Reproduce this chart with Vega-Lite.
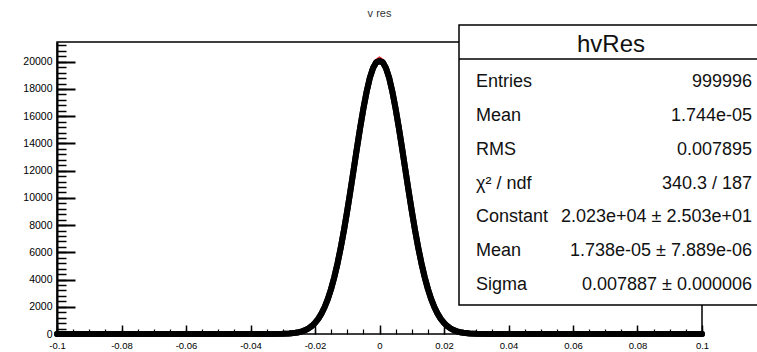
{
  "$schema": "https://vega.github.io/schema/vega-lite/v6.json",
  "width": 645,
  "height": 292,
  "autosize": {"type": "none"},
  "padding": {"left": 57, "top": 42, "right": 55, "bottom": 18},
  "background": "white",
  "config": {
    "view": {"stroke": "black", "strokeWidth": 1.5},
    "font": "Liberation Sans",
    "axis": {"grid": false, "labelFont": "Liberation Sans", "labelColor": "black", "title": null, "labelFlush": false, "labelOverlap": false}
  },
  "title": {"text": "v res", "fontSize": 11, "fontWeight": "normal", "color": "#333", "font": "Liberation Sans", "offset": 5, "anchor": "middle", "frame": "group"},
  "datasets": {
    "hist": [
      {"x": -0.1, "fit": 0, "counts": 0},
      {"x": -0.09, "fit": 0, "counts": 0},
      {"x": -0.08, "fit": 0, "counts": 0},
      {"x": -0.07, "fit": 0, "counts": 0},
      {"x": -0.06, "fit": 0, "counts": 0},
      {"x": -0.05, "fit": 0, "counts": 0},
      {"x": -0.04, "fit": 0, "counts": 0},
      {"x": -0.035, "fit": 1, "counts": 1},
      {"x": -0.03, "fit": 15, "counts": 15},
      {"x": -0.028, "fit": 37, "counts": 37},
      {"x": -0.026, "fit": 88, "counts": 88},
      {"x": -0.025, "fit": 133, "counts": 133},
      {"x": -0.024, "fit": 197, "counts": 197},
      {"x": -0.023, "fit": 288, "counts": 288},
      {"x": -0.022, "fit": 413, "counts": 413},
      {"x": -0.021, "fit": 584, "counts": 584},
      {"x": -0.02, "fit": 812, "counts": 812},
      {"x": -0.019, "fit": 1111, "counts": 1111},
      {"x": -0.018, "fit": 1496, "counts": 1496},
      {"x": -0.017, "fit": 1982, "counts": 1982},
      {"x": -0.016, "fit": 2585, "counts": 2585},
      {"x": -0.015, "fit": 3316, "counts": 3316},
      {"x": -0.014, "fit": 4186, "counts": 4186},
      {"x": -0.013, "fit": 5201, "counts": 5201},
      {"x": -0.012, "fit": 6358, "counts": 6358},
      {"x": -0.011, "fit": 7649, "counts": 7649},
      {"x": -0.01, "fit": 9056, "counts": 9056},
      {"x": -0.009, "fit": 10550, "counts": 10550},
      {"x": -0.008, "fit": 12095, "counts": 12095},
      {"x": -0.007, "fit": 13644, "counts": 13644},
      {"x": -0.006, "fit": 15147, "counts": 15147},
      {"x": -0.005, "fit": 16547, "counts": 16547},
      {"x": -0.004, "fit": 17789, "counts": 17789},
      {"x": -0.003, "fit": 18818, "counts": 18818},
      {"x": -0.002, "fit": 19590, "counts": 19540},
      {"x": -0.001, "fit": 20068, "counts": 19960},
      {"x": 0, "fit": 20230, "counts": 20040},
      {"x": 0.001, "fit": 20068, "counts": 19960},
      {"x": 0.002, "fit": 19590, "counts": 19540},
      {"x": 0.003, "fit": 18818, "counts": 18818},
      {"x": 0.004, "fit": 17789, "counts": 17789},
      {"x": 0.005, "fit": 16547, "counts": 16547},
      {"x": 0.006, "fit": 15147, "counts": 15147},
      {"x": 0.007, "fit": 13644, "counts": 13644},
      {"x": 0.008, "fit": 12095, "counts": 12095},
      {"x": 0.009, "fit": 10550, "counts": 10550},
      {"x": 0.01, "fit": 9056, "counts": 9056},
      {"x": 0.011, "fit": 7649, "counts": 7649},
      {"x": 0.012, "fit": 6358, "counts": 6358},
      {"x": 0.013, "fit": 5201, "counts": 5201},
      {"x": 0.014, "fit": 4186, "counts": 4186},
      {"x": 0.015, "fit": 3316, "counts": 3316},
      {"x": 0.016, "fit": 2585, "counts": 2585},
      {"x": 0.017, "fit": 1982, "counts": 1982},
      {"x": 0.018, "fit": 1496, "counts": 1496},
      {"x": 0.019, "fit": 1111, "counts": 1111},
      {"x": 0.02, "fit": 812, "counts": 812},
      {"x": 0.021, "fit": 584, "counts": 584},
      {"x": 0.022, "fit": 413, "counts": 413},
      {"x": 0.023, "fit": 288, "counts": 288},
      {"x": 0.024, "fit": 197, "counts": 197},
      {"x": 0.025, "fit": 133, "counts": 133},
      {"x": 0.026, "fit": 88, "counts": 88},
      {"x": 0.028, "fit": 37, "counts": 37},
      {"x": 0.03, "fit": 15, "counts": 15},
      {"x": 0.035, "fit": 1, "counts": 1},
      {"x": 0.04, "fit": 0, "counts": 0},
      {"x": 0.05, "fit": 0, "counts": 0},
      {"x": 0.06, "fit": 0, "counts": 0},
      {"x": 0.07, "fit": 0, "counts": 0},
      {"x": 0.08, "fit": 0, "counts": 0},
      {"x": 0.09, "fit": 0, "counts": 0},
      {"x": 0.1, "fit": 0, "counts": 0}
    ],
    "stats": [
      {"row": 1, "label": "Entries", "value": "999996"},
      {"row": 2, "label": "Mean", "value": "1.744e-05"},
      {"row": 3, "label": "RMS", "value": "0.007895"},
      {"row": 4, "label": "χ² / ndf", "value": "340.3 / 187"},
      {"row": 5, "label": "Constant", "value": "2.023e+04 ± 2.503e+01"},
      {"row": 6, "label": "Mean", "value": "1.738e-05 ± 7.889e-06"},
      {"row": 7, "label": "Sigma", "value": "0.007887 ± 0.000006"}
    ],
    "box": [{"name": "hvRes"}]
  },
  "layer": [
    {
      "data": {"name": "hist"},
      "layer": [
        {
          "mark": {"type": "line", "color": "#e8202a", "strokeWidth": 4},
          "encoding": {
            "x": {"field": "x", "type": "quantitative", "scale": {"domain": [-0.1, 0.1], "nice": false, "zero": false},
              "axis": {"orient": "bottom", "ticks": false, "domain": false, "labelPadding": 6, "labelFontSize": 9.5,
                "values": [-0.1, -0.08, -0.06, -0.04, -0.02, 0, 0.02, 0.04, 0.06, 0.08, 0.1],
                "labelExpr": "'' + datum.value"}},
            "y": {"field": "fit", "type": "quantitative", "scale": {"domain": [0, 21450], "nice": false},
              "axis": {"orient": "left", "ticks": false, "domain": true, "domainColor": "black", "domainWidth": 2, "labelPadding": 5, "labelFontSize": 10.5,
                "values": [0, 2000, 4000, 6000, 8000, 10000, 12000, 14000, 16000, 18000, 20000], "format": "d"}}
          }
        },
        {
          "mark": {"type": "line", "color": "black", "strokeWidth": 6, "strokeCap": "round", "strokeJoin": "round"},
          "encoding": {
            "x": {"field": "x", "type": "quantitative",
              "axis": {"orient": "bottom", "labels": false, "domain": false, "tickSize": -9, "tickWidth": 1.5, "tickColor": "black",
                "values": [-0.1, -0.08, -0.06, -0.04, -0.02, 0, 0.02, 0.04, 0.06, 0.08, 0.1]}},
            "y": {"field": "counts", "type": "quantitative",
              "axis": {"orient": "left", "labels": false, "domain": false, "tickSize": -18, "tickWidth": 2, "tickColor": "black",
                "values": [0, 2000, 4000, 6000, 8000, 10000, 12000, 14000, 16000, 18000, 20000]}}
          }
        },
        {
          "mark": {"type": "line", "color": "black", "strokeWidth": 6, "strokeCap": "round", "strokeJoin": "round"},
          "encoding": {
            "x": {"field": "x", "type": "quantitative",
              "axis": {"orient": "bottom", "labels": false, "domain": false, "tickSize": -5, "tickWidth": 1.2, "tickColor": "black",
                "values": [-0.1, -0.095, -0.09, -0.085, -0.08, -0.075, -0.07, -0.065, -0.06, -0.055, -0.05, -0.045, -0.04, -0.035, -0.03, -0.025, -0.02, -0.015, -0.01, -0.005, 0, 0.005, 0.01, 0.015, 0.02, 0.025, 0.03, 0.035, 0.04, 0.045, 0.05, 0.055, 0.06, 0.065, 0.07, 0.075, 0.08, 0.085, 0.09, 0.095, 0.1]}},
            "y": {"field": "counts", "type": "quantitative",
              "axis": {"orient": "left", "labels": false, "domain": false, "tickSize": -9, "tickWidth": 1.5, "tickColor": "black",
                "values": [0, 400, 800, 1200, 1600, 2000, 2400, 2800, 3200, 3600, 4000, 4400, 4800, 5200, 5600, 6000, 6400, 6800, 7200, 7600, 8000, 8400, 8800, 9200, 9600, 10000, 10400, 10800, 11200, 11600, 12000, 12400, 12800, 13200, 13600, 14000, 14400, 14800, 15200, 15600, 16000, 16400, 16800, 17200, 17600, 18000, 18400, 18800, 19200, 19600, 20000, 20400, 20800, 21200]}}
          }
        }
      ],
      "resolve": {"axis": {"x": "independent", "y": "independent"}}
    },
    {
      "data": {"name": "box"},
      "layer": [
        {
          "mark": {"type": "rect", "fill": "white", "stroke": "black", "strokeWidth": 1.5},
          "encoding": {
            "x": {"datum": 0, "type": "quantitative", "scale": {"domain": [0, 1], "range": [402, 706]}, "axis": null},
            "x2": {"datum": 1},
            "y": {"datum": 0, "type": "quantitative", "scale": {"domain": [0, 1], "range": [-17, 263]}, "axis": null},
            "y2": {"datum": 1}
          }
        },
        {
          "mark": {"type": "rule", "color": "black", "strokeWidth": 1.5},
          "encoding": {
            "x": {"datum": 0, "type": "quantitative", "axis": null},
            "x2": {"datum": 1},
            "y": {"datum": 0.1214, "type": "quantitative", "axis": null}
          }
        },
        {
          "mark": {"type": "text", "fontSize": 24, "baseline": "middle", "align": "center", "color": "#111", "font": "Liberation Sans"},
          "encoding": {
            "x": {"datum": 0.5, "type": "quantitative", "axis": null},
            "y": {"datum": 0.07, "type": "quantitative", "axis": null},
            "text": {"field": "name"}
          }
        }
      ]
    },
    {
      "data": {"name": "stats"},
      "layer": [
        {
          "mark": {"type": "text", "align": "left", "baseline": "middle", "fontSize": 18, "color": "#111", "font": "Liberation Sans"},
          "encoding": {
            "x": {"datum": 0, "type": "quantitative", "scale": {"domain": [0, 1], "range": [419, 695]}, "axis": null},
            "y": {"field": "row", "type": "ordinal", "scale": {"type": "point", "range": [40, 243], "padding": 0}, "axis": null},
            "text": {"field": "label"}
          }
        },
        {
          "mark": {"type": "text", "align": "right", "baseline": "middle", "fontSize": 18, "color": "#111", "font": "Liberation Sans"},
          "encoding": {
            "x": {"datum": 1, "type": "quantitative", "axis": null},
            "y": {"field": "row", "type": "ordinal", "axis": null},
            "text": {"field": "value"}
          }
        }
      ]
    }
  ],
  "resolve": {"scale": {"x": "independent", "y": "independent"}}
}
